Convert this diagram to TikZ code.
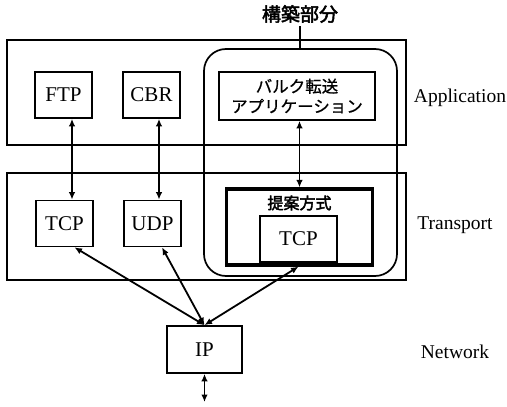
\documentclass[tikz,border=0pt]{standalone}
\usepackage{fontspec}
\setmainfont{Liberation Serif}
\newfontfamily\jp{Noto Sans CJK JP}[FakeBold=0.8]
\newfontfamily\jpb{Noto Sans CJK JP}[FakeBold=2.5]
\usetikzlibrary{arrows.meta}
\begin{document}
\begin{tikzpicture}[x=1pt,y=-1pt,
  layer/.style={draw,line width=1.9pt},
  box/.style={draw,line width=1.7pt,minimum width=57pt,minimum height=46pt,inner sep=0pt,font=\fontsize{21}{23}\selectfont},
  lbl/.style={font=\fontsize{19.5}{21}\selectfont},
  tips/.style={{Latex[length=7.5pt,width=6.5pt]}-{Latex[length=7.5pt,width=6.5pt]}},
  link/.style={line width=1.8pt,tips}]
\useasboundingbox (0,0) rectangle (507,407);
% layers
\draw[layer] (7,40) rectangle (406,145);
\draw[layer] (7,173) rectangle (406,280);
\draw[line width=1.7pt,rounded corners=22pt] (204,276) -- (204,49) -- (397,49) -- (397,276) -- cycle;
% label of the built part
\node[font=\jpb\fontsize{19}{21}\selectfont] (built) at (300,14) {構築部分};
\coordinate (rtop) at (300,49);
\draw[line width=1.7pt] (built.south) -- (rtop);
% application layer
\node[box] (ftp) at (63.5,95) {FTP};
\node[box] (cbr) at (151.5,95) {CBR};
\node[box,minimum width=156pt,minimum height=48pt,align=center,font=\jp\fontsize{16.5}{20}\selectfont] (bulk) at (297,96) {バルク転送\\アプリケーション};
\node[lbl] (app) at (460,98) {Application};
% transport layer
\node[box] (tcp1) at (64.5,223.5) {TCP};
\node[box] (udp) at (152.5,223.5) {UDP};
\node[draw,line width=3.2pt,minimum width=146pt,minimum height=76pt,inner sep=0pt] (prop) at (299.5,227) {};
\node[font=\jpb\fontsize{16}{18}\selectfont] (propl) at (299.5,203) {提案方式};
\node[box,minimum width=77pt,minimum height=46pt] (tcp2) at (298.5,239) {TCP};
\node[lbl] (trans) at (455,225) {Transport};
% network layer
\node[box,minimum width=75pt,minimum height=47pt] (ip) at (204.5,349.5) {IP};
\node[lbl] (net) at (455,352) {Network};
\coordinate (below) at (204.5,402);
% connectors
\draw[link] ([xshift=8.5pt]ftp.south) -- ([xshift=7.5pt]tcp1.north);
\draw[link] ([xshift=7.5pt]cbr.south) -- ([xshift=6.5pt]udp.north);
\draw[link] (prop.north |- bulk.south) -- (prop.north);
\draw[link] ([xshift=10pt]tcp1.south) -- (ip.north);
\draw[link] ([xshift=9.5pt]udp.south) -- (ip.north);
\draw[link] ([xshift=-1pt]prop.south) -- (ip.north);
\draw[link] (ip.south) -- (below);
\end{tikzpicture}
\end{document}
